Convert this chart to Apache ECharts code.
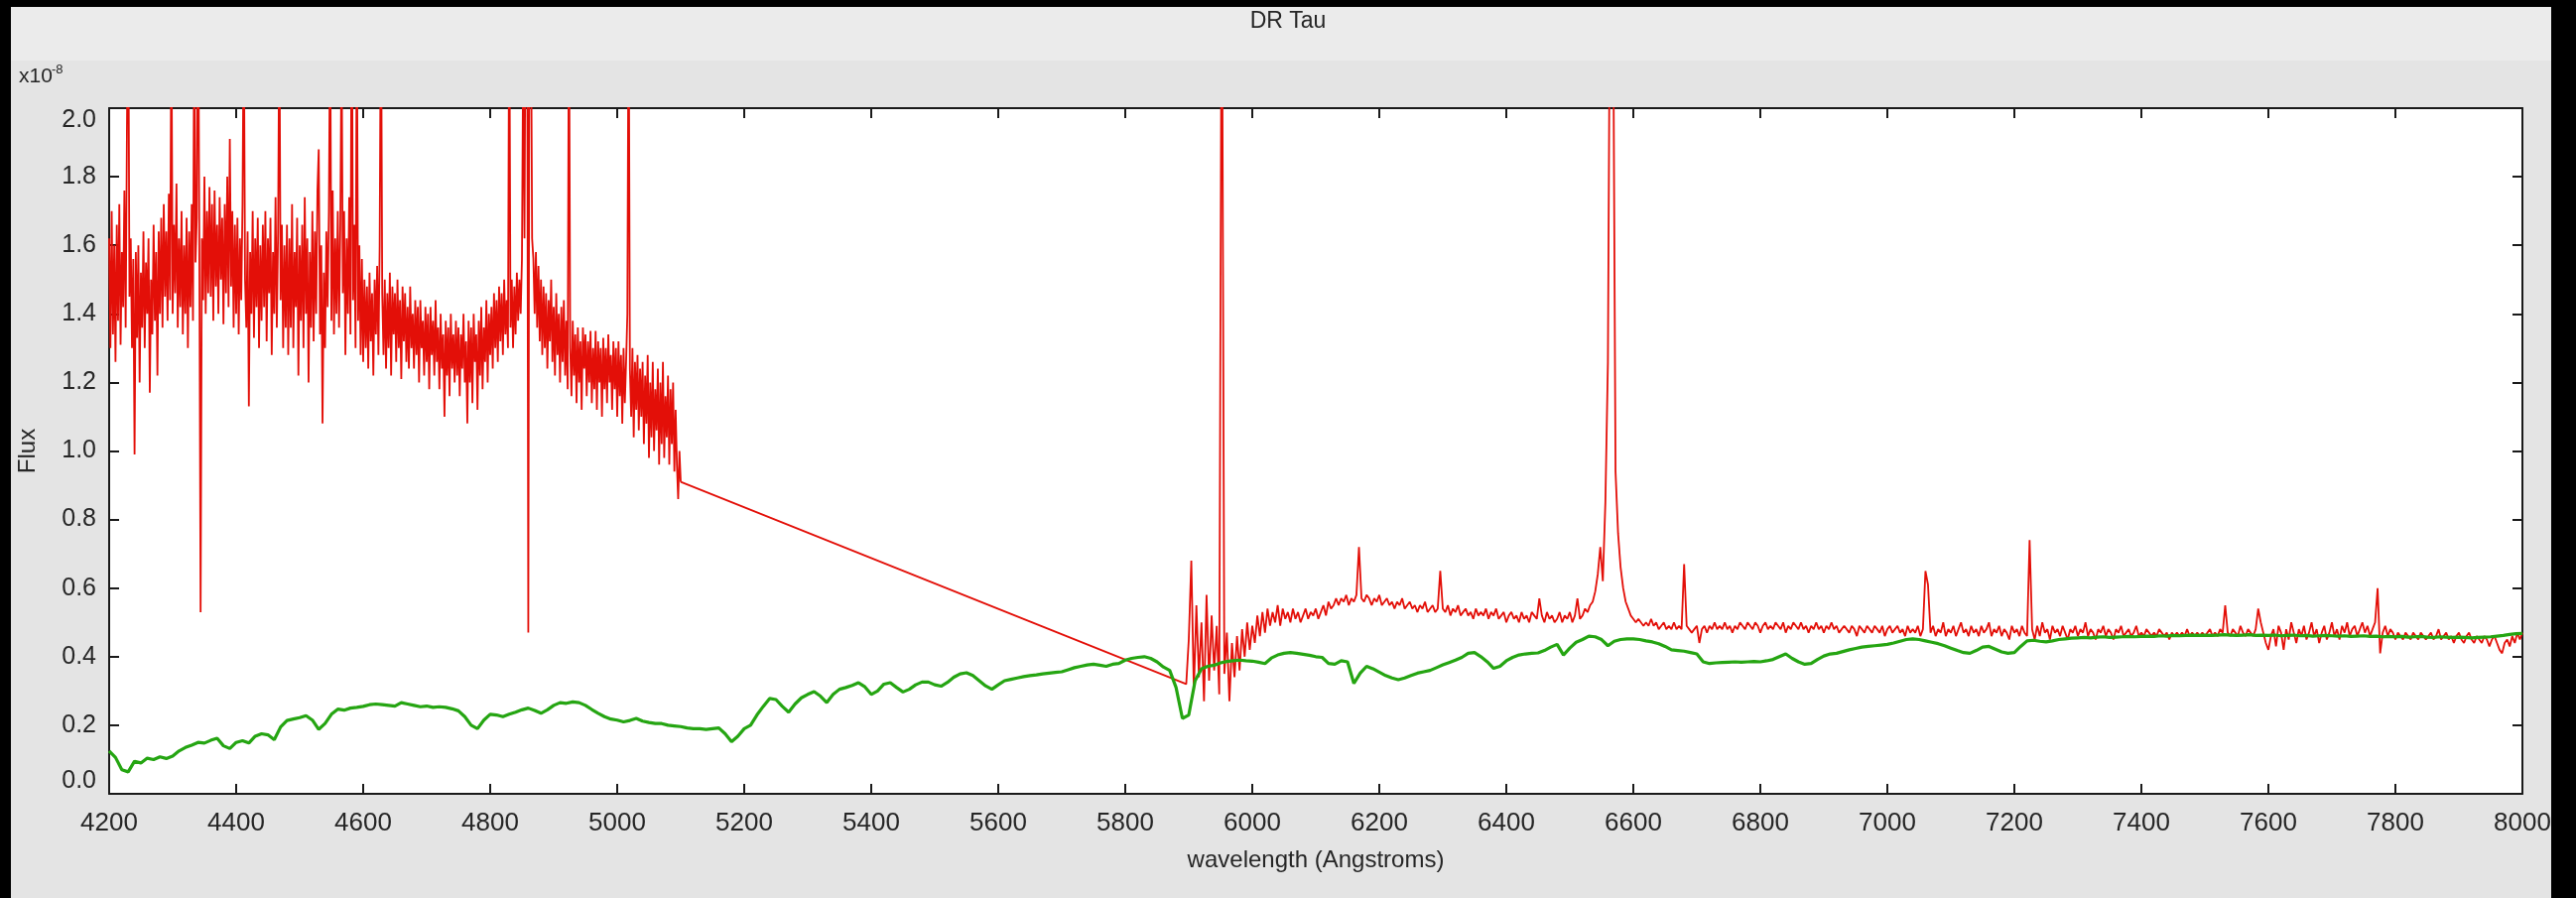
<!DOCTYPE html>
<html>
<head>
<meta charset="utf-8">
<title>DR Tau</title>
<script src="https://cdn.jsdelivr.net/npm/echarts@6/dist/echarts.min.js"></script>
<style>
  html, body { margin: 0; padding: 0; width: 2596px; height: 905px; overflow: hidden; background: #000; }
  #panel { position: absolute; left: 11px; top: 7px; width: 2560px; height: 898px; background: #e4e4e4; }
  #band { position: absolute; left: 0; top: 0; width: 100%; height: 54px; background: #ebebeb; }
  #chart { position: absolute; left: 0; top: 0; width: 2596px; height: 905px; }
  .edge { position: absolute; background: #000; z-index: 5; }
</style>
</head>
<body>
<div id="panel"><div id="band"></div></div>
<div id="chart"></div>
<div class="edge" style="left:2571px;top:0;width:25px;height:905px"></div>
<div class="edge" style="left:0;top:0;width:11px;height:905px"></div>
<div class="edge" style="left:0;top:0;width:2596px;height:7px"></div>
<script>
// Wavelength axis (Angstroms) and flux axis (units of 1e-8)
const waveMin = 4200, waveMax = 8000, waveTick = 200;
const fluxMin = 0, fluxMax = 2.0, fluxTick = 0.2;

// Observed spectrum, blue arm: 4200-5100 A, one sample every 2 A (20 samples per row)
const obsBlueStart = 4200, obsBlueStep = 2;
const obsBlueFlux = [
  1.62, 1.30, 1.70, 1.34, 1.60, 1.26, 1.66, 1.38, 1.72, 1.31, 1.58, 1.42, 1.76, 1.36, 1.93, 2.40, 1.45, 1.62, 1.30, 1.56,
  0.99, 1.58, 1.33, 1.60, 1.20, 1.52, 1.36, 1.64, 1.30, 1.55, 1.40, 1.62, 1.17, 1.50, 1.34, 1.66, 1.38, 1.58, 1.22, 1.64,
  1.40, 1.68, 1.36, 1.72, 1.45, 1.64, 1.38, 1.75, 1.44, 2.30, 1.40, 1.66, 1.46, 1.78, 1.36, 1.62, 1.42, 1.70, 1.34, 1.60,
  1.40, 1.68, 1.30, 1.64, 1.42, 1.72, 1.38, 2.30, 1.55, 1.68, 2.50, 1.60, 0.53, 1.62, 1.44, 1.80, 1.40, 1.70, 1.46, 1.77,
  1.45, 1.72, 1.38, 1.76, 1.48, 1.66, 1.40, 1.74, 1.50, 1.68, 1.37, 1.72, 1.46, 1.80, 1.42, 1.91, 1.48, 1.70, 1.36, 1.66,
  1.40, 1.68, 1.34, 1.62, 1.44, 1.72, 2.30, 1.50, 1.36, 1.64, 1.13, 1.58, 1.40, 1.70, 1.33, 1.62, 1.42, 1.68, 1.30, 1.60,
  1.38, 1.66, 1.42, 1.70, 1.32, 1.62, 1.46, 1.68, 1.28, 1.58, 1.40, 1.74, 1.36, 1.64, 2.30, 1.44, 1.66, 1.30, 1.60, 1.36,
  1.66, 1.28, 1.62, 1.36, 1.72, 1.30, 1.58, 1.42, 1.68, 1.22, 1.60, 1.38, 1.66, 1.30, 1.74, 1.40, 1.62, 1.20, 1.58, 1.36,
  1.70, 1.32, 1.64, 1.40, 1.76, 1.88, 1.34, 1.60, 1.08, 1.52, 1.30, 1.64, 1.42, 1.70, 2.30, 1.38, 1.76, 1.34, 1.62, 1.40,
  1.70, 1.36, 1.66, 2.20, 1.46, 1.70, 1.28, 1.62, 1.40, 1.74, 1.34, 2.50, 1.44, 1.66, 1.30, 2.30, 1.38, 1.60, 1.28, 1.56,
  1.26, 1.50, 1.30, 1.48, 1.24, 1.52, 1.32, 1.46, 1.22, 1.50, 1.34, 1.54, 1.28, 1.60, 2.40, 1.46, 1.28, 1.50, 1.24, 1.46,
  1.30, 1.52, 1.22, 1.48, 1.34, 1.46, 1.26, 1.50, 1.30, 1.44, 1.21, 1.48, 1.32, 1.46, 1.26, 1.42, 1.24, 1.48, 1.30, 1.40,
  1.24, 1.44, 1.28, 1.42, 1.20, 1.44, 1.30, 1.38, 1.22, 1.42, 1.26, 1.40, 1.18, 1.42, 1.28, 1.38, 1.22, 1.44, 1.26, 1.36,
  1.18, 1.40, 1.24, 1.34, 1.10, 1.38, 1.22, 1.36, 1.16, 1.40, 1.24, 1.34, 1.20, 1.38, 1.22, 1.36, 1.16, 1.34, 1.24, 1.40,
  1.20, 1.32, 1.08, 1.38, 1.20, 1.36, 1.14, 1.40, 1.26, 1.34, 1.12, 1.38, 1.22, 1.42, 1.18, 1.36, 1.26, 1.44, 1.20, 1.40,
  1.28, 1.42, 1.24, 1.46, 1.30, 1.44, 1.26, 1.48, 1.32, 1.46, 1.28, 1.50, 1.34, 1.44, 1.30, 2.40, 1.36, 1.50, 1.30, 1.48,
  1.34, 1.52, 1.38, 1.50, 1.40, 1.56, 2.20, 1.62, 2.50, 2.60, 0.47, 2.60, 2.40, 1.62, 1.56, 1.40, 1.58, 1.36, 1.54, 1.32,
  1.50, 1.28, 1.48, 1.30, 1.46, 1.24, 1.44, 1.32, 1.50, 1.26, 1.42, 1.22, 1.46, 1.28, 1.40, 1.20, 1.42, 1.26, 1.44, 1.22,
  1.38, 1.18, 2.40, 1.30, 1.16, 1.38, 1.22, 1.34, 1.14, 1.36, 1.20, 1.32, 1.12, 1.36, 1.24, 1.34, 1.16, 1.32, 1.20, 1.35,
  1.14, 1.30, 1.18, 1.35, 1.12, 1.32, 1.20, 1.30, 1.10, 1.33, 1.18, 1.30, 1.14, 1.34, 1.20, 1.28, 1.12, 1.32, 1.18, 1.30,
  1.10, 1.32, 1.16, 1.28, 1.08, 1.30, 1.14, 1.26, 1.40, 2.40, 1.24, 1.10, 1.30, 1.04, 1.26, 1.12, 1.28, 1.06, 1.24, 1.10,
  1.26, 1.02, 1.22, 1.08, 1.28, 0.98, 1.20, 1.04, 1.26, 1.00, 1.18, 1.06, 1.24, 0.96, 1.20, 1.02, 1.26, 0.98, 1.16, 1.04,
  1.22, 0.96, 1.18, 1.02, 1.20, 0.94, 1.12, 0.96, 0.86, 1.00, 0.91
];

// Observed spectrum, red arm: 5896-8000 A, one sample every 4 A
const obsRedStart = 5896, obsRedStep = 4;
const obsRedFlux = [
  0.32, 0.45, 0.68, 0.30, 0.55, 0.34, 0.50, 0.27, 0.58, 0.33,
  0.52, 0.36, 0.49, 0.29, 2.60, 0.35, 0.47, 0.27, 0.44, 0.34,
  0.46, 0.36, 0.48, 0.40, 0.50, 0.42, 0.49, 0.44, 0.52, 0.46,
  0.53, 0.47, 0.54, 0.49, 0.53, 0.50, 0.55, 0.49, 0.54, 0.51,
  0.53, 0.50, 0.54, 0.51, 0.53, 0.50, 0.52, 0.54, 0.51, 0.53,
  0.52, 0.54, 0.51, 0.53, 0.55, 0.52, 0.56, 0.54, 0.55, 0.57,
  0.55, 0.57, 0.56, 0.58, 0.55, 0.57, 0.56, 0.58, 0.72, 0.57,
  0.56, 0.58, 0.57, 0.55, 0.57, 0.56, 0.58, 0.55, 0.56, 0.57,
  0.55, 0.56, 0.54, 0.56, 0.55, 0.57, 0.54, 0.55, 0.56, 0.54,
  0.55, 0.53, 0.55, 0.54, 0.56, 0.53, 0.54, 0.55, 0.53, 0.54,
  0.65, 0.54, 0.53, 0.55, 0.52, 0.54, 0.53, 0.55, 0.52, 0.53,
  0.54, 0.52, 0.53, 0.51, 0.54, 0.52, 0.53, 0.52, 0.54, 0.51,
  0.53, 0.52, 0.54, 0.51, 0.52, 0.53, 0.50, 0.52, 0.53, 0.51,
  0.52, 0.50, 0.53, 0.51, 0.52, 0.50, 0.53, 0.52, 0.51, 0.57,
  0.52, 0.50, 0.53, 0.51, 0.52, 0.50, 0.51, 0.53, 0.50, 0.52,
  0.51, 0.53, 0.50, 0.52, 0.57, 0.51, 0.52, 0.54, 0.53, 0.55,
  0.56, 0.59, 0.64, 0.72, 0.62, 0.85, 1.26, 2.70, 2.40, 0.94,
  0.76, 0.66, 0.60, 0.56, 0.54, 0.52, 0.51, 0.50, 0.51, 0.50,
  0.49, 0.50, 0.49, 0.51, 0.49, 0.50, 0.48, 0.49, 0.50, 0.48,
  0.49, 0.48, 0.50, 0.48, 0.49, 0.48, 0.67, 0.49, 0.48, 0.47,
  0.48, 0.49, 0.44, 0.48, 0.49, 0.47, 0.49, 0.48, 0.50, 0.48,
  0.49, 0.48, 0.50, 0.48, 0.49, 0.47, 0.49, 0.48, 0.50, 0.49,
  0.48, 0.50, 0.49, 0.48, 0.50, 0.49, 0.47, 0.49, 0.50, 0.48,
  0.49, 0.48, 0.50, 0.49, 0.48, 0.50, 0.47, 0.49, 0.48, 0.50,
  0.49, 0.48, 0.50, 0.48, 0.49, 0.47, 0.49, 0.48, 0.50, 0.48,
  0.49, 0.47, 0.49, 0.48, 0.50, 0.48, 0.49, 0.47, 0.48, 0.49,
  0.48, 0.47, 0.49, 0.48, 0.46, 0.49, 0.48, 0.47, 0.49, 0.48,
  0.47, 0.49, 0.48, 0.47, 0.49, 0.46, 0.48, 0.49, 0.47, 0.48,
  0.49, 0.47, 0.48, 0.46, 0.49, 0.47, 0.48, 0.47, 0.49, 0.46,
  0.48, 0.65, 0.61, 0.47, 0.49, 0.46, 0.48, 0.47, 0.50, 0.46,
  0.48, 0.47, 0.49, 0.46, 0.48, 0.50, 0.47, 0.48, 0.46, 0.49,
  0.47, 0.48, 0.46, 0.49, 0.47, 0.48, 0.50, 0.46, 0.48, 0.47,
  0.49, 0.46, 0.48, 0.47, 0.45, 0.49, 0.47, 0.48, 0.46, 0.49,
  0.47, 0.46, 0.74, 0.48, 0.45, 0.49, 0.46, 0.50, 0.47, 0.48,
  0.45, 0.49, 0.47, 0.48, 0.46, 0.49, 0.47, 0.45, 0.48, 0.47,
  0.49, 0.46, 0.48, 0.47, 0.50, 0.46, 0.48, 0.47, 0.45, 0.48,
  0.47, 0.49, 0.46, 0.48, 0.47, 0.45, 0.48, 0.47, 0.49, 0.46,
  0.47, 0.48, 0.46, 0.47, 0.49, 0.46, 0.47, 0.46, 0.48, 0.47,
  0.46, 0.47, 0.46, 0.48, 0.47, 0.46, 0.47, 0.45, 0.47, 0.46,
  0.47, 0.46, 0.47, 0.46, 0.48, 0.46, 0.47, 0.46, 0.47, 0.46,
  0.47, 0.46, 0.47, 0.48, 0.46, 0.47, 0.46, 0.48, 0.47, 0.55,
  0.47, 0.46, 0.48, 0.47, 0.46, 0.49, 0.47, 0.46, 0.48, 0.47,
  0.46, 0.48, 0.54, 0.50, 0.47, 0.44, 0.42, 0.46, 0.48, 0.43,
  0.49, 0.47, 0.42, 0.48, 0.45, 0.50, 0.47, 0.44, 0.48, 0.46,
  0.49, 0.45, 0.47, 0.50, 0.46, 0.48, 0.44, 0.47, 0.49, 0.45,
  0.47, 0.50, 0.46, 0.48, 0.45, 0.49, 0.47, 0.50, 0.46, 0.48,
  0.49, 0.46, 0.48, 0.50, 0.47, 0.49, 0.46, 0.48, 0.50, 0.60,
  0.41, 0.47, 0.49, 0.46, 0.48, 0.47, 0.45, 0.47, 0.46, 0.45,
  0.47, 0.46, 0.45, 0.47, 0.46, 0.45, 0.47, 0.46, 0.45, 0.46,
  0.47, 0.45, 0.46, 0.48, 0.45, 0.46, 0.47, 0.45, 0.46, 0.44,
  0.46, 0.47, 0.45, 0.44, 0.46, 0.47, 0.45, 0.44, 0.46, 0.45,
  0.44, 0.46, 0.45, 0.43, 0.45, 0.46, 0.44, 0.42, 0.41, 0.44,
  0.45, 0.43, 0.46, 0.44, 0.47, 0.45, 0.47
];

// Template spectrum: 4200-8000 A, one sample every 10 A
const tmplStart = 4200, tmplStep = 10;
const tmplFlux = [
  0.125, 0.106, 0.070, 0.064, 0.095, 0.090, 0.104, 0.100, 0.108, 0.103,
  0.110, 0.125, 0.135, 0.142, 0.150, 0.148, 0.156, 0.162, 0.140, 0.132,
  0.150, 0.155, 0.148, 0.168, 0.175, 0.172, 0.158, 0.195, 0.214, 0.218,
  0.222, 0.228, 0.215, 0.188, 0.205, 0.232, 0.247, 0.244, 0.250, 0.252,
  0.255, 0.260, 0.262, 0.260, 0.258, 0.256, 0.266, 0.262, 0.258, 0.254,
  0.256, 0.252, 0.254, 0.252, 0.248, 0.242, 0.225, 0.200, 0.190, 0.215,
  0.232, 0.230, 0.225, 0.232, 0.238, 0.245, 0.250, 0.243, 0.235, 0.245,
  0.258, 0.266, 0.264, 0.268, 0.266, 0.258, 0.246, 0.235, 0.225, 0.218,
  0.215, 0.210, 0.214, 0.220, 0.212, 0.208, 0.205, 0.205, 0.200, 0.198,
  0.196, 0.192, 0.190, 0.190, 0.188, 0.190, 0.192, 0.175, 0.152, 0.168,
  0.190, 0.200, 0.230, 0.255, 0.278, 0.275, 0.255, 0.238, 0.262, 0.280,
  0.290, 0.298, 0.285, 0.266, 0.290, 0.305, 0.310, 0.316, 0.324, 0.312,
  0.290, 0.300, 0.320, 0.324, 0.310, 0.297, 0.305, 0.318, 0.326, 0.326,
  0.318, 0.314, 0.325, 0.340, 0.350, 0.353, 0.345, 0.330, 0.315, 0.305,
  0.318, 0.330, 0.334, 0.338, 0.342, 0.345, 0.347, 0.350, 0.352, 0.354,
  0.356, 0.362, 0.368, 0.372, 0.376, 0.378, 0.375, 0.372, 0.378, 0.380,
  0.390, 0.395, 0.398, 0.400, 0.395, 0.385, 0.370, 0.360, 0.310, 0.220,
  0.230, 0.330, 0.365, 0.372, 0.375, 0.382, 0.386, 0.388, 0.390, 0.388,
  0.387, 0.384, 0.380, 0.396, 0.405, 0.410, 0.412, 0.410, 0.407, 0.404,
  0.400, 0.398, 0.380, 0.378, 0.388, 0.385, 0.322, 0.352, 0.372, 0.365,
  0.355, 0.345, 0.338, 0.333, 0.338, 0.345, 0.352, 0.356, 0.360, 0.368,
  0.376, 0.383, 0.390, 0.398, 0.410, 0.412, 0.400, 0.385, 0.366, 0.372,
  0.388, 0.398, 0.405, 0.408, 0.410, 0.411, 0.418, 0.428, 0.436, 0.405,
  0.425, 0.442, 0.450, 0.460, 0.458, 0.450, 0.432, 0.445, 0.450, 0.452,
  0.452, 0.450, 0.446, 0.443, 0.438, 0.430, 0.420, 0.418, 0.416, 0.412,
  0.408, 0.385, 0.380, 0.382, 0.383, 0.384, 0.385, 0.384, 0.385, 0.386,
  0.385, 0.388, 0.392, 0.400, 0.408, 0.395, 0.385, 0.378, 0.380, 0.392,
  0.402, 0.408, 0.410, 0.415, 0.420, 0.424, 0.428, 0.430, 0.432, 0.434,
  0.436, 0.440, 0.445, 0.450, 0.452, 0.450, 0.446, 0.442, 0.438, 0.432,
  0.425, 0.418, 0.412, 0.410, 0.418, 0.428, 0.430, 0.422, 0.414, 0.410,
  0.412, 0.430, 0.446, 0.448, 0.445, 0.443, 0.446, 0.450, 0.452, 0.454,
  0.455, 0.456, 0.455, 0.457, 0.458, 0.456, 0.457, 0.458, 0.459, 0.458,
  0.459, 0.460, 0.459, 0.461, 0.460, 0.462, 0.461, 0.462, 0.463, 0.462,
  0.463, 0.462, 0.463, 0.464, 0.463, 0.462, 0.463, 0.464, 0.462, 0.463,
  0.462, 0.463, 0.461, 0.462, 0.463, 0.461, 0.462, 0.460, 0.461, 0.462,
  0.461, 0.460, 0.461, 0.459, 0.460, 0.461, 0.459, 0.460, 0.458, 0.459,
  0.458, 0.459, 0.457, 0.458, 0.459, 0.457, 0.456, 0.458, 0.457, 0.456,
  0.457, 0.456, 0.455, 0.456, 0.457, 0.458, 0.460, 0.462, 0.465, 0.467,
  0.468
];

// Pair each flux sample with its wavelength on the sampling grid
function toPairs(start, step, flux) {
  return flux.map((f, i) => [start + i * step, f]);
}
const blueArm = toPairs(obsBlueStart, obsBlueStep, obsBlueFlux);
// The red-arm trace starts from the last blue sample, bridging the gap between the arms
const redArm = [blueArm[blueArm.length - 1]].concat(toPairs(obsRedStart, obsRedStep, obsRedFlux));
const template = toPairs(tmplStart, tmplStep, tmplFlux);

const FONT = '"Liberation Sans", Arial, Helvetica, sans-serif';
const INK = '#262626';
const OBS_RED = '#e30f08';

const frameLine = { show: true, onZero: false, lineStyle: { color: '#1a1a1a', width: 2 } };
const innerTick = { show: true, inside: true, length: 10, lineStyle: { color: '#1a1a1a', width: 2 } };

const chart = echarts.init(document.getElementById('chart'), null, { renderer: 'canvas' });
chart.setOption({
  backgroundColor: 'transparent',
  animation: false,
  grid: {
    left: 110, right: 54, top: 109, bottom: 105,
    show: true, backgroundColor: '#ffffff', borderWidth: 0
  },
  graphic: [
    {
      type: 'text', x: 1298, y: 22,
      style: { text: 'DR Tau', font: '23px ' + FONT, fill: INK, align: 'center', verticalAlign: 'middle' }
    },
    {
      type: 'text', x: 19, y: 88,
      style: { text: 'x10', font: '21px ' + FONT, fill: INK, align: 'left', verticalAlign: 'bottom' }
    },
    {
      type: 'text', x: 52, y: 77,
      style: { text: '-8', font: '13px ' + FONT, fill: INK, align: 'left', verticalAlign: 'bottom' }
    }
  ],
  xAxis: [
    {
      type: 'value', position: 'bottom',
      min: waveMin, max: waveMax, interval: waveTick,
      axisLine: frameLine, axisTick: innerTick, splitLine: { show: false },
      axisLabel: { color: INK, fontFamily: FONT, fontSize: 26, margin: 17, formatter: v => String(v) },
      name: 'wavelength (Angstroms)', nameLocation: 'middle', nameGap: 55,
      nameTextStyle: { color: INK, fontFamily: FONT, fontSize: 24 }
    },
    {
      type: 'value', position: 'top',
      min: waveMin, max: waveMax, interval: waveTick,
      axisLine: frameLine, axisTick: innerTick, splitLine: { show: false },
      axisLabel: { show: false }
    }
  ],
  yAxis: [
    {
      type: 'value', position: 'left',
      min: fluxMin, max: fluxMax, interval: fluxTick,
      axisLine: frameLine, axisTick: innerTick, splitLine: { show: false },
      axisLabel: {
        color: INK, fontFamily: FONT, fontSize: 25, margin: 13,
        formatter: v => v.toFixed(1),
        verticalAlignMinLabel: 'bottom', verticalAlignMaxLabel: 'top'
      },
      name: 'Flux', nameLocation: 'middle', nameGap: 70,
      nameTextStyle: { color: INK, fontFamily: FONT, fontSize: 24 }
    },
    {
      type: 'value', position: 'right',
      min: fluxMin, max: fluxMax, interval: fluxTick,
      axisLine: frameLine, axisTick: innerTick, splitLine: { show: false },
      axisLabel: { show: false }
    }
  ],
  series: [
    {
      name: 'DR Tau blue', type: 'line', data: blueArm,
      showSymbol: false, symbol: 'none', clip: true, z: 2,
      lineStyle: { color: OBS_RED, width: 1.8 }
    },
    {
      name: 'DR Tau red', type: 'line', data: redArm,
      showSymbol: false, symbol: 'none', clip: true, z: 2,
      lineStyle: { color: OBS_RED, width: 1.8 }
    },
    {
      name: 'template', type: 'line', data: template,
      showSymbol: false, symbol: 'none', clip: true, z: 3,
      lineStyle: { color: '#25a512', width: 3.2 }
    }
  ]
});
</script>
</body>
</html>
